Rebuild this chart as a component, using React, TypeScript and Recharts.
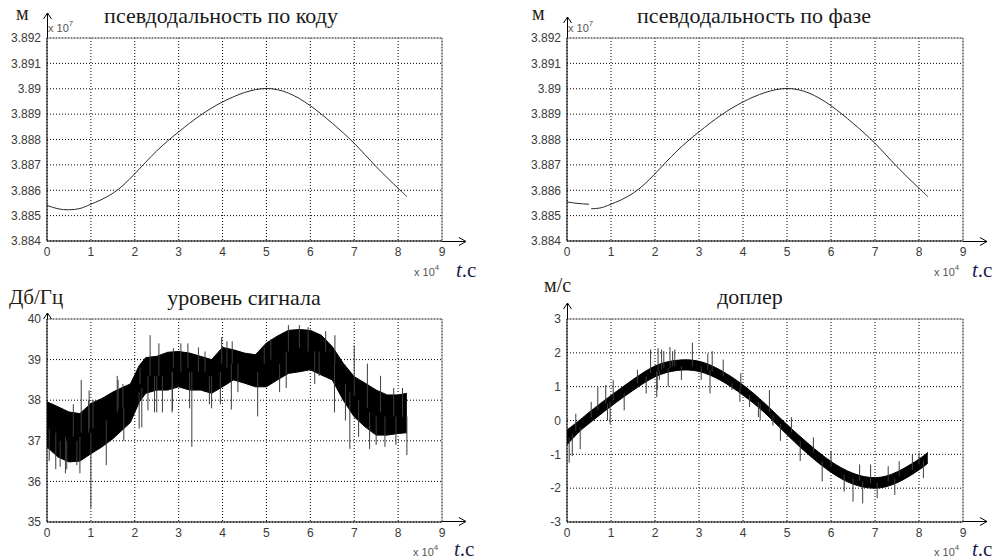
import React from 'react';
import { ComposedChart, Line, Area, XAxis, YAxis, CartesianGrid, ReferenceLine } from 'recharts';

// time axis, units of 10^4 s
const timeTicks = [0, 1, 2, 3, 4, 5, 6, 7, 8, 9];
// pseudorange axis, units of 10^7 m
const rangeTicks = [3.884, 3.885, 3.886, 3.887, 3.888, 3.889, 3.89, 3.891, 3.892];
const levelTicks = [35, 36, 37, 38, 39, 40];
const dopplerTicks = [-3, -2, -1, 0, 1, 2, 3];

// псевдодальность по коду
const codeT = [0, 0.25, 0.5, 0.75, 1, 1.5, 2, 2.5, 3, 3.5, 4, 4.5, 5, 5.5, 6, 6.5, 7, 7.5, 8, 8.2];
const codeRange = [
  3.8854, 3.88527, 3.88523, 3.88528, 3.88545, 3.88588, 3.88665, 3.88755, 3.8883, 3.88896,
  3.88948, 3.88985, 3.89001, 3.88983, 3.88933, 3.88864, 3.88785, 3.88693, 3.88608, 3.88575,
];

// псевдодальность по фазе (jump near 0.5)
const phaseT = [0, 0.25, 0.5, 0.5, 0.55, 0.75, 1, 1.5, 2, 2.5, 3, 3.5, 4, 4.5, 5, 5.5, 6, 6.5, 7, 7.5, 8, 8.2];
const phaseRange = [
  3.88554, 3.88548, 3.88545, null, 3.88527, 3.8853, 3.88545, 3.88588, 3.88665, 3.88755, 3.8883,
  3.88896, 3.88948, 3.88985, 3.89001, 3.88983, 3.88933, 3.88864, 3.88785, 3.88693, 3.88608, 3.88575,
];

// уровень сигнала: noise band envelope
const levelT = [
  0, 0.25, 0.5, 0.75, 1, 1.25, 1.5, 1.75, 1.9, 2.1, 2.25, 2.5, 2.75, 3, 3.25, 3.5, 3.75, 4, 4.25,
  4.5, 4.75, 5, 5.25, 5.5, 5.75, 6, 6.25, 6.5, 6.75, 7, 7.25, 7.5, 7.75, 8, 8.2,
];
const levelHigh = [
  37.96, 37.84, 37.71, 37.67, 37.92, 38.04, 38.2, 38.33, 38.4, 38.85, 39.05, 39.08, 39.18, 39.2,
  39.16, 39.08, 39.0, 39.3, 39.24, 39.16, 39.12, 39.41, 39.58, 39.72, 39.74, 39.72, 39.6, 39.32,
  38.91, 38.58, 38.42, 38.25, 38.13, 38.13, 38.17,
];
const levelLow = [
  36.85, 36.6, 36.48, 36.5, 36.68, 36.85, 37.05, 37.3, 37.45, 37.95, 38.17, 38.25, 38.25, 38.33,
  38.25, 38.25, 38.17, 38.33, 38.5, 38.42, 38.33, 38.33, 38.5, 38.66, 38.7, 38.75, 38.62, 38.5,
  38.0, 37.59, 37.34, 37.14, 37.14, 37.18, 37.2,
];
const levelSpikeT = [
  0.05, 0.2, 0.3, 0.42, 0.45, 0.6, 0.68, 0.75, 0.78, 0.95, 0.96, 1.0, 1.05, 1.35, 1.6, 1.62, 1.73,
  1.75, 2.1, 2.12, 2.16, 2.3, 2.35, 2.45, 2.5, 2.55, 2.63, 2.85, 2.86, 2.88, 3.05, 3.21, 3.25, 3.3,
  3.45, 3.6, 3.7, 3.75, 3.95, 3.98, 4.1, 4.2, 4.22, 4.35, 4.8, 4.95, 5.1, 5.3, 5.45, 5.5, 5.75,
  5.95, 6.1, 6.2, 6.35, 6.55, 6.56, 6.8, 6.9, 7.0, 7.1, 7.3, 7.35, 7.5, 7.6, 7.7, 7.9, 7.95, 8.1,
  8.2,
];
const levelSpikeFrom = [
  37.3, 37.2, 37.0, 37.1, 37.0, 37.1, 37.0, 37.1, 37.2, 37.2, 37.3, 37.2, 37.3, 37.5, 37.7, 37.8,
  37.8, 37.8, 38.2, 38.4, 38.3, 38.6, 38.6, 38.6, 38.6, 38.6, 38.6, 38.7, 38.7, 38.8, 38.7, 38.8,
  38.7, 38.7, 38.7, 38.7, 38.6, 38.6, 38.7, 38.9, 38.8, 38.9, 38.9, 38.9, 38.7, 38.9, 39.0, 38.9,
  39.2, 39.2, 39.3, 39.2, 39.2, 39.2, 39.2, 38.9, 38.9, 38.4, 38.2, 38.1, 38.0, 37.8, 37.7, 37.6,
  37.7, 37.6, 37.6, 37.6, 37.6, 37.6,
];
const levelSpikeTo = [
  36.5, 36.3, 36.36, 36.2, 36.3, 37.9, 36.4, 36.2, 38.5, 38.0, 38.24, 35.35, 38.0, 36.4, 38.6,
  38.5, 38.4, 37.0, 37.3, 38.8, 37.33, 37.75, 39.6, 37.7, 37.7, 39.4, 37.7, 37.7, 37.75, 39.28,
  39.4, 39.4, 37.8, 36.85, 39.3, 39.2, 37.9, 37.8, 37.9, 39.55, 39.45, 37.77, 39.45, 38.2, 37.6,
  39.3, 39.5, 38.2, 38.3, 39.85, 39.85, 39.8, 38.4, 38.6, 39.7, 37.7, 39.6, 37.5, 36.8, 39.35,
  37.1, 38.9, 36.8, 36.9, 38.6, 36.85, 38.3, 36.9, 38.3, 36.65,
];

// доплер: noise band envelope
const dopplerT = [0, 0.25, 0.5, 1, 1.5, 2, 2.5, 3, 3.5, 4, 4.5, 5, 5.5, 6, 6.5, 7, 7.5, 8, 8.2];
const dopplerHigh = [
  -0.28, -0.03, 0.24, 0.74, 1.21, 1.61, 1.78, 1.75, 1.48, 1.05, 0.5, -0.12, -0.7, -1.21, -1.56,
  -1.69, -1.52, -1.14, -0.94,
];
const dopplerLow = [
  -0.72, -0.37, -0.09, 0.42, 0.89, 1.29, 1.48, 1.45, 1.18, 0.75, 0.22, -0.42, -1.02, -1.53, -1.88,
  -2.0, -1.84, -1.46, -1.26,
];
const dopplerSpikeT = [
  0.05, 0.12, 0.2, 0.3, 0.55, 0.7, 0.88, 0.92, 0.98, 1.05, 1.3, 1.6, 1.8, 1.9, 2.04, 2.05, 2.07,
  2.1, 2.15, 2.2, 2.3, 2.34, 2.4, 2.45, 2.6, 2.85, 3.05, 3.2, 3.25, 3.3, 3.55, 3.75, 3.93, 3.95,
  4.15, 4.35, 4.39, 4.6, 4.68, 4.85, 5.1, 5.3, 5.6, 5.8, 6.0, 6.3, 6.5, 6.65, 6.72, 6.9, 7.05, 7.3,
  7.45, 7.55, 7.85, 8.0, 8.1,
];
const dopplerSpikeFrom = [
  -0.5, -0.4, -0.3, -0.2, 0.1, 0.3, 0.5, 0.5, 0.55, 0.6, 0.8, 1.1, 1.3, 1.4, 1.45, 1.45, 1.45,
  1.45, 1.5, 1.55, 1.55, 1.55, 1.6, 1.6, 1.6, 1.6, 1.6, 1.5, 1.5, 1.45, 1.3, 1.1, 0.95, 0.95,
  0.75, 0.55, 0.5, 0.25, 0.15, -0.1, -0.35, -0.6, -0.95, -1.2, -1.37, -1.6, -1.72, -1.78, -1.8,
  -1.85, -1.85, -1.8, -1.72, -1.65, -1.45, -1.3, -1.2,
];
const dopplerSpikeTo = [
  -1.25, -1.05, 0.2, -0.85, 0.55, 1.0, 1.05, 0.0, -0.1, 1.2, 0.3, 1.5, 0.8, 2.1, 0.69, 0.9, 2.14,
  1.2, 2.1, 2.05, 1.0, 2.17, 2.05, 2.1, 1.2, 2.3, 1.2, 1.98, 0.8, 2.05, 1.8, 0.9, 0.55, 1.4, 0.4,
  0.1, 0.0, 0.9, -0.15, -0.6, 0.1, -1.2, -0.5, -1.8, -0.9, -2.1, -2.4, -1.3, -2.45, -1.3, -2.3,
  -1.35, -2.2, -1.2, -1.0, -0.95, -1.7,
];

type Pt = { t: number; v: number | null };

const toLine = (ts: number[], vs: (number | null)[]): Pt[] => ts.map((t, i) => ({ t, v: vs[i] }));
const toBand = (ts: number[], lo: number[], hi: number[]) =>
  ts.map((t, i) => ({ t, band: [lo[i], hi[i]] }));
const toSpikes = (ts: number[], from: number[], to: number[]): Pt[] =>
  ts.flatMap((t, i) => [
    { t, v: from[i] },
    { t, v: to[i] },
    { t, v: null },
  ]);

const tickStyle = { fontSize: 12, fill: '#3a3a3a', fontFamily: 'Liberation Sans, Arial, sans-serif' };
const fmtTick = (v: number) => String(Number(v.toFixed(3)));

type PanelProps = {
  left: number;
  top: number;
  yAxisW: number;
  rightM: number;
  topM: number;
  yTicks: number[];
  children: React.ReactNode;
};

const W = 497;
const H = 280;
const XAXIS_H = 24;
const PLOT_H = 203;

function Panel({ left, top, yAxisW, rightM, topM, yTicks, children }: PanelProps) {
  const bottomM = H - topM - PLOT_H - XAXIS_H;
  const yMin = yTicks[0];
  const yMax = yTicks[yTicks.length - 1];
  return (
    <div style={{ position: 'absolute', left, top }}>
      <ComposedChart width={W} height={H} margin={{ top: topM, right: rightM, bottom: bottomM, left: 0 }}>
        <CartesianGrid stroke="#000" strokeDasharray="1 2" strokeWidth={1} />
        <XAxis
          dataKey="t"
          type="number"
          domain={[0, 9]}
          ticks={timeTicks}
          interval={0}
          height={XAXIS_H}
          tickLine={false}
          tickSize={4}
          axisLine={{ stroke: '#000' }}
          tick={tickStyle}
          allowDataOverflow
        />
        <YAxis
          type="number"
          domain={[yMin, yMax]}
          ticks={yTicks}
          interval={0}
          width={yAxisW}
          tickLine={false}
          tickSize={4}
          axisLine={{ stroke: '#000' }}
          tick={tickStyle}
          tickFormatter={fmtTick}
          allowDataOverflow
        />
        <ReferenceLine y={yMax} stroke="#8a8a8a" />
        <ReferenceLine x={9} stroke="#8a8a8a" />
        {children}
      </ComposedChart>
    </div>
  );
}

const serif = 'Liberation Serif, Times New Roman, serif';
const sans = 'Liberation Sans, Arial, sans-serif';

function Arrows() {
  // decorative axis arrows drawn over the plots
  const xArrows = [
    { x: 442, y: 241 },
    { x: 963, y: 241 },
    { x: 442, y: 521 },
    { x: 963, y: 521 },
  ];
  const yArrows = [
    { x: 47, y: 38, tip: 13 },
    { x: 567, y: 38, tip: 17 },
    { x: 47, y: 319, tip: 313 },
    { x: 567, y: 319, tip: 303 },
  ];
  return (
    <g stroke="#000" strokeWidth={1} fill="none">
      {xArrows.map((a, i) => (
        <g key={'x' + i}>
          <line x1={a.x} y1={a.y + 0.5} x2={a.x + 24} y2={a.y + 0.5} />
          <polyline points={`${a.x + 17},${a.y - 3.5} ${a.x + 24},${a.y + 0.5} ${a.x + 17},${a.y + 4.5}`} />
        </g>
      ))}
      {yArrows.map((a, i) => (
        <g key={'y' + i}>
          <line x1={a.x + 0.5} y1={a.y} x2={a.x + 0.5} y2={a.tip} />
          <polyline points={`${a.x - 3.5},${a.tip + 6} ${a.x + 0.5},${a.tip} ${a.x + 4.5},${a.tip + 6}`} />
        </g>
      ))}
    </g>
  );
}

function Exponent({ x, y, p }: { x: number; y: number; p: string }) {
  return (
    <text x={x} y={y} fontFamily={sans} fontSize={11} fill="#555">
      x 10
      <tspan dy={-6} fontSize={8}>
        {p}
      </tspan>
    </text>
  );
}

function TimeUnit({ x, y }: { x: number; y: number }) {
  return (
    <text x={x} y={y} fontFamily={serif} fontSize={21} fill="#1c1c4a">
      <tspan fontStyle="italic">t</tspan>
      <tspan>.c</tspan>
    </text>
  );
}

function Labels() {
  return (
    <g>
      <text x={221} y={23} textAnchor="middle" fontFamily={serif} fontSize={22} fill="#1a1a1a">
        псевдодальность по коду
      </text>
      <text x={754} y={23} textAnchor="middle" fontFamily={serif} fontSize={22} fill="#1a1a1a">
        псевдодальность по фазе
      </text>
      <text x={244} y={305} textAnchor="middle" fontFamily={serif} fontSize={22} fill="#1a1a1a">
        уровень сигнала
      </text>
      <text x={750} y={304} textAnchor="middle" fontFamily={serif} fontSize={22} fill="#1a1a1a">
        доплер
      </text>
      <text x={16} y={20} fontFamily={serif} fontSize={20} fill="#2a1c10">м</text>
      <text x={532} y={20} fontFamily={serif} fontSize={20} fill="#2a1c10">м</text>
      <text x={9} y={304} fontFamily={serif} fontSize={21} fill="#2a1c10">Дб/Гц</text>
      <text x={544} y={292} fontFamily={serif} fontSize={20} fill="#2a1c10">м/с</text>
      <Exponent x={48} y={32} p="7" />
      <Exponent x={568} y={32} p="7" />
      <Exponent x={414} y={276} p="4" />
      <Exponent x={934} y={276} p="4" />
      <Exponent x={413} y={556} p="4" />
      <Exponent x={934} y={556} p="4" />
      <TimeUnit x={456} y={277} />
      <TimeUnit x={972} y={277} />
      <TimeUnit x={454} y={556} />
      <TimeUnit x={972} y={556} />
    </g>
  );
}

export default function App() {
  const codeData = toLine(codeT, codeRange);
  const phaseData = toLine(phaseT, phaseRange);
  const levelBand = toBand(levelT, levelLow, levelHigh);
  const levelSpikes = toSpikes(levelSpikeT, levelSpikeFrom, levelSpikeTo);
  const dopplerBand = toBand(dopplerT, dopplerLow, dopplerHigh);
  const dopplerSpikes = toSpikes(dopplerSpikeT, dopplerSpikeFrom, dopplerSpikeTo);

  return (
    <div style={{ position: 'absolute', left: 0, top: 0, width: 995, height: 560, background: '#fff', overflow: 'hidden' }}>
      <Panel left={0} top={0} yAxisW={47} rightM={55} topM={38} yTicks={rangeTicks}>
        <Line data={codeData} dataKey="v" type="natural" stroke="#2a2a2a" strokeWidth={1} dot={false} isAnimationActive={false} />
      </Panel>
      <Panel left={497} top={0} yAxisW={70} rightM={31} topM={38} yTicks={rangeTicks}>
        <Line data={phaseData} dataKey="v" type="natural" stroke="#2a2a2a" strokeWidth={1} dot={false} isAnimationActive={false} />
      </Panel>
      <Panel left={0} top={280} yAxisW={47} rightM={55} topM={39} yTicks={levelTicks}>
        <Line data={levelSpikes} dataKey="v" type="linear" stroke="#3c3c3c" strokeWidth={1} dot={false} isAnimationActive={false} />
        <Area data={levelBand} dataKey="band" type="linear" stroke="#000" strokeWidth={1} fill="#000" fillOpacity={1} isAnimationActive={false} />
      </Panel>
      <Panel left={497} top={280} yAxisW={70} rightM={31} topM={39} yTicks={dopplerTicks}>
        <Line data={dopplerSpikes} dataKey="v" type="linear" stroke="#3c3c3c" strokeWidth={1} dot={false} isAnimationActive={false} />
        <Area data={dopplerBand} dataKey="band" type="natural" stroke="#000" strokeWidth={1} fill="#000" fillOpacity={1} isAnimationActive={false} />
      </Panel>
      <svg width={995} height={560} style={{ position: 'absolute', left: 0, top: 0, pointerEvents: 'none' }}>
        <Arrows />
        <Labels />
      </svg>
    </div>
  );
}
